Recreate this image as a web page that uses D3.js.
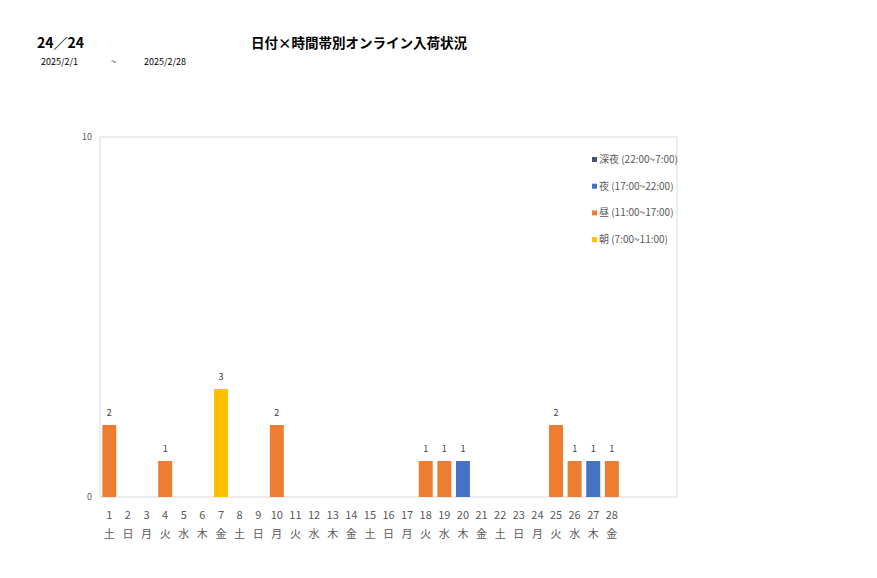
<!DOCTYPE html>
<html>
<head>
<meta charset="utf-8">
<script src="https://cdn.jsdelivr.net/npm/d3@7"></script>
<style>
  body { margin: 0; background: #fff; }
  svg text { font-family: "Noto Sans CJK JP", "Noto Sans", sans-serif; }
</style>
</head>
<body>
<script>
// chart values
var days = d3.range(1, 29);
var weekdays = ["土","日","月","火","水","木","金","土","日","月","火","水","木","金",
                "土","日","月","火","水","木","金","土","日","月","火","水","木","金"];
var seriesNames = ["朝 (7:00~11:00)", "昼 (11:00~17:00)", "夜 (17:00~22:00)", "深夜 (22:00~7:00)"];
var asa    = [0,0,0,0,0,0,3,0,0,0,0,0,0,0,0,0,0,0,0,0,0,0,0,0,0,0,0,0];
var hiru   = [2,0,0,1,0,0,0,0,0,2,0,0,0,0,0,0,0,1,1,0,0,0,0,0,2,1,0,1];
var yoru   = [0,0,0,0,0,0,0,0,0,0,0,0,0,0,0,0,0,0,0,1,0,0,0,0,0,0,1,0];
var shinya = [0,0,0,0,0,0,0,0,0,0,0,0,0,0,0,0,0,0,0,0,0,0,0,0,0,0,0,0];
var yTicks = [0, 10];

var colors = ["#FFC000", "#ED7D31", "#4472C4", "#44546A"];

var W = 877, H = 578;
var pLeft = 100, pRight = 677, pTop = 137, pBottom = 497;

var svg = d3.select("body").append("svg")
    .attr("width", W)
    .attr("height", H);

// headings
svg.append("text")
    .attr("x", 37).attr("y", 48)
    .style("font-size", "14px").style("font-weight", "bold")
    .attr("fill", "#000")
    .text("24／24");
svg.append("text")
    .attr("x", 359).attr("y", 48)
    .attr("text-anchor", "middle")
    .style("font-size", "13.5px").style("font-weight", "bold")
    .attr("fill", "#000")
    .text("日付×時間帯別オンライン入荷状況");
svg.append("text").attr("x", 41).attr("y", 65)
    .style("font-size", "9px").attr("fill", "#000").text("2025/2/1");
svg.append("text").attr("x", 111).attr("y", 65)
    .style("font-size", "9px").attr("fill", "#000").text("~");
svg.append("text").attr("x", 144).attr("y", 65)
    .style("font-size", "9px").attr("fill", "#000").text("2025/2/28");

// scales
var slotCount = 31;
var x = d3.scaleBand()
    .domain(d3.range(1, slotCount + 1))
    .range([pLeft, pRight])
    .paddingInner(0.25)
    .paddingOuter(0.125);
var y = d3.scaleLinear()
    .domain([0, 10])
    .range([pBottom, pTop]);

// plot frame
svg.append("rect")
    .attr("x", pLeft).attr("y", pTop)
    .attr("width", pRight - pLeft).attr("height", pBottom - pTop)
    .attr("fill", "none")
    .attr("stroke", "#D9D9D9")
    .attr("stroke-width", 1);

// y ticks
svg.selectAll(".ytick").data(yTicks).enter().append("text")
    .attr("class", "ytick")
    .attr("x", pLeft - 8)
    .attr("y", function(d) { return y(d) + 3; })
    .attr("text-anchor", "end")
    .style("font-size", "9px")
    .attr("fill", "#595959")
    .text(function(d) { return d; });

// stacked bars
var table = days.map(function(d, i) {
  return { day: d, s0: asa[i], s1: hiru[i], s2: yoru[i], s3: shinya[i] };
});
var stack = d3.stack().keys(["s0", "s1", "s2", "s3"]);
var layers = stack(table);

svg.selectAll(".layer").data(layers).enter().append("g")
    .attr("class", "layer")
    .attr("fill", function(d, i) { return colors[i]; })
  .selectAll("rect").data(function(d) { return d; }).enter().append("rect")
    .attr("x", function(d) { return x(d.data.day); })
    .attr("y", function(d) { return y(d[1]); })
    .attr("width", x.bandwidth())
    .attr("height", function(d) { return y(d[0]) - y(d[1]); });

// totals
function total(d) { return d.s0 + d.s1 + d.s2 + d.s3; }
svg.selectAll(".total").data(table.filter(function(d) { return total(d) > 0; }))
  .enter().append("text")
    .attr("class", "total")
    .attr("x", function(d) { return x(d.day) + x.bandwidth() / 2; })
    .attr("y", function(d) { return y(total(d)) - 9; })
    .attr("text-anchor", "middle")
    .style("font-size", "9px")
    .attr("fill", "#404040")
    .text(total);

// x labels
var xl = svg.selectAll(".xl").data(days).enter().append("g")
    .attr("class", "xl")
    .attr("transform", function(d) { return "translate(" + (x(d) + x.bandwidth() / 2) + ",0)"; });
xl.append("text")
    .attr("y", 519)
    .attr("text-anchor", "middle")
    .style("font-size", "11px")
    .attr("fill", "#595959")
    .text(function(d) { return d; });
xl.append("text")
    .attr("y", 538)
    .attr("text-anchor", "middle")
    .style("font-size", "11px")
    .attr("fill", "#595959")
    .text(function(d, i) { return weekdays[i]; });

// legend (top to bottom: 深夜, 夜, 昼, 朝)
var legendOrder = [3, 2, 1, 0];
var lg = svg.selectAll(".lg").data(legendOrder).enter().append("g")
    .attr("class", "lg")
    .attr("transform", function(d, i) { return "translate(592," + (160 + i * 26.7) + ")"; });
lg.append("rect")
    .attr("x", 0).attr("y", -3)
    .attr("width", 5).attr("height", 5)
    .attr("fill", function(d) { return colors[d]; });
lg.append("text")
    .attr("x", 7).attr("y", 3)
    .style("font-size", "10px")
    .attr("fill", "#595959")
    .text(function(d) { return seriesNames[d]; });
</script>
</body>
</html>
